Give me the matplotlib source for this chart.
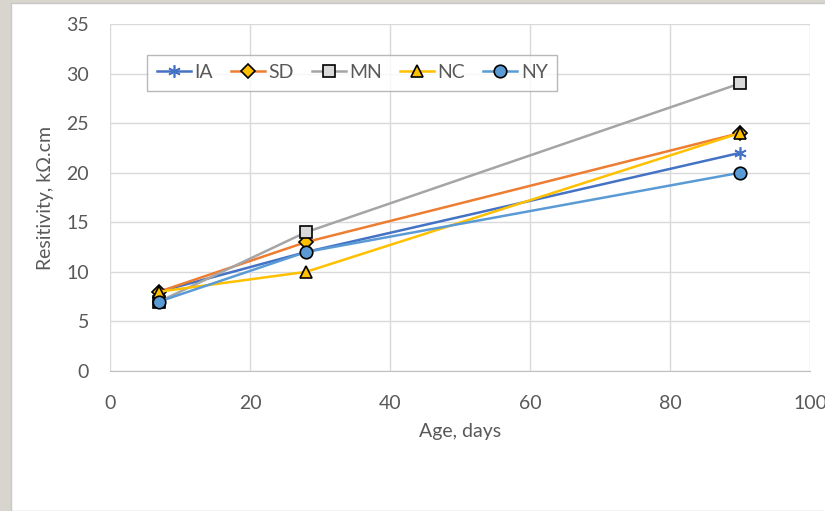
import matplotlib.pyplot as plt
from matplotlib.patches import Rectangle

# ---------------------------------------------------------------------------
# DATA
# ---------------------------------------------------------------------------
age = [7, 28, 90]
ia = [8, 12, 22]
sd = [8, 13, 24]
mn = [7, 14, 29]
nc = [8, 10, 24]
ny = [7, 12, 20]

series = [
    ('IA', ia, '#4472C4', (6, 2, 0), '#4472C4', '#4472C4', 9),
    ('SD', sd, '#ED7D31', 'D', '#FFC000', 'black', 7),
    ('MN', mn, '#A5A5A5', 's', '#D9D9D9', 'black', 9),
    ('NC', nc, '#FFC000', '^', '#FFC000', 'black', 9),
    ('NY', ny, '#5B9BD5', 'o', '#5B9BD5', 'black', 9),
]

plt.rcParams['font.family'] = ['Lato', 'DejaVu Sans']

fig = plt.figure(figsize=(8.25, 5.11), dpi=100, facecolor='#d8d5cf')
# white chart panel over the photo background
fig.patches.append(Rectangle((11 / 825, 0), 1, 1 - 3 / 511, transform=fig.transFigure,
                             facecolor='white', edgecolor='#c8c8c8', linewidth=1, zorder=-10))

ax = fig.add_axes([110 / 825, 1 - 371 / 511, 700 / 825, 347 / 511])
ax.set_zorder(5)
ax.set_facecolor('white')

for name, vals, col, mk, mfc, mec, ms in series:
    ax.plot(age, vals, color=col, linewidth=1.8, marker=mk, markersize=ms,
            markerfacecolor=mfc, markeredgecolor=mec, markeredgewidth=1.2, label=name)

ax.set_xlim(0, 100)
ax.set_ylim(0, 35)
ax.set_xticks(range(0, 101, 20))
ax.set_yticks(range(0, 36, 5))
ax.grid(True, color='#D9D9D9', linewidth=1)
ax.set_axisbelow(True)
for s in ['top', 'right', 'left']:
    ax.spines[s].set_visible(False)
ax.spines['bottom'].set_color('#BFBFBF')
ax.tick_params(length=0, labelsize=14, labelcolor='#595959')
ax.tick_params(axis='x', pad=17)
ax.tick_params(axis='y', pad=15)

ax.set_xlabel('Age, days', fontsize=14, color='#595959', labelpad=8)
ax.set_ylabel('Resitivity, kΩ.cm', fontsize=14, color='#595959', labelpad=9)

leg = ax.legend(loc='upper left', bbox_to_anchor=(0.053, 0.912), ncol=5, fontsize=14,
                frameon=True, fancybox=False, edgecolor='#A6A6A6', handlelength=1.75,
                columnspacing=0.9, handletextpad=0.2, borderpad=0.5, borderaxespad=0,
                labelcolor='#595959')
leg.get_frame().set_linewidth(1)

plt.savefig('out.png', dpi=100, facecolor=fig.get_facecolor())
